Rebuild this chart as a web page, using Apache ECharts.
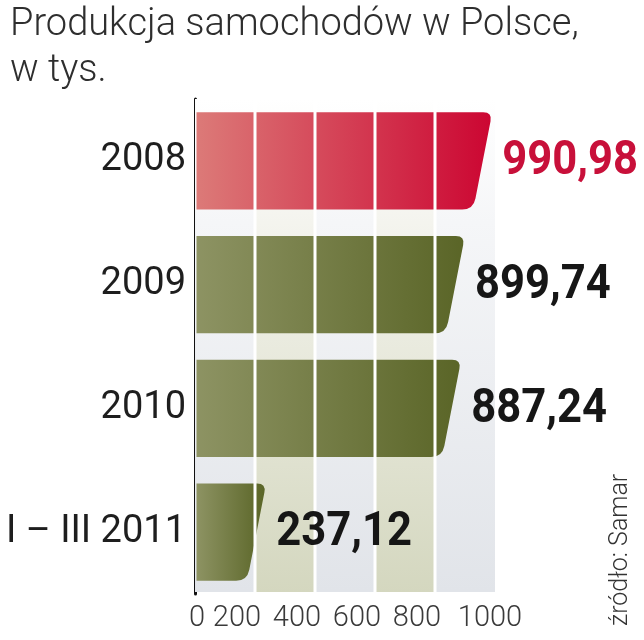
<!DOCTYPE html>
<html>
<head>
<meta charset="utf-8">
<script src="https://cdn.jsdelivr.net/npm/echarts@6/dist/echarts.min.js"></script>
<style>
  html, body { margin: 0; padding: 0; background: #fff; }
  #chart { width: 644px; height: 640px; }
</style>
</head>
<body>
<div id="chart"></div>
<script>
const categories = ['2008', '2009', '2010', 'I – III 2011']
const values = [990.98, 899.74, 887.24, 237.12]
const ticks = [0, 200, 400, 600, 800, 1000]

// label nudges: the printed scale numbers sit left of their gridlines
const tickShift = { 0: 2, 200: -18, 400: -18, 600: -18, 800: -18, 1000: -5 }

const chart = echarts.init(document.getElementById('chart'), null, { renderer: 'canvas' })

const fmt = v => v.toFixed(2).replace('.', ',')

const stripes = ticks.slice(0, -1).map((t, i) => [t, ticks[i + 1], i])
const separators = ticks.slice(1, -1)

function renderStripe(params, api) {
  const sys = params.coordSys
  const a = api.coord([api.value(0), 0])[0]
  const b = api.coord([api.value(1), 0])[0]
  const odd = api.value(2) % 2 === 1
  return {
    type: 'rect',
    shape: { x: a, y: sys.y, width: b - a, height: sys.height - 2 },
    style: {
      fill: new echarts.graphic.LinearGradient(0, 0, 0, 1, [
        { offset: 0, color: '#ffffff' },
        { offset: 0.25, color: odd ? '#f4f4ee' : '#f5f6f8' },
        { offset: 1, color: odd ? '#d4d7bf' : '#e1e4e9' }
      ])
    }
  }
}

function renderBar(params, api) {
  const v = api.value(0)
  const idx = api.value(1)
  const start = api.coord([0, idx])
  const end = api.coord([v, idx])
  const h = api.size([0, 1])[1] * 0.785
  const x0 = start[0] + 1.5
  const x1 = end[0]
  const yT = end[1] - h / 2
  const yB = end[1] + h / 2
  const slant = 19
  const r = 9
  const rb = 11
  const k = slant / h
  const d = [
    'M', x0, yT,
    'L', x1 - r, yT,
    'Q', x1, yT, x1 - k * r, yT + r,
    'L', x1 - slant + k * rb, yB - rb,
    'Q', x1 - slant, yB, x1 - slant - rb, yB,
    'L', x0, yB, 'Z'
  ].join(' ')
  const red = idx === 0
  return {
    type: 'path',
    shape: { pathData: d },
    style: {
      fill: new echarts.graphic.LinearGradient(0, 0, 1, 0, red ? [
        { offset: 0, color: '#dc7a78' },
        { offset: 1, color: '#cc0632' }
      ] : [
        { offset: 0, color: '#8d9363' },
        { offset: 1, color: '#5a6527' }
      ])
    }
  }
}

function renderSeparator(params, api) {
  const sys = params.coordSys
  const x = api.coord([api.value(0), 0])[0]
  return {
    type: 'line',
    shape: { x1: x, y1: sys.y, x2: x, y2: sys.y + sys.height },
    style: { stroke: '#ffffff', lineWidth: 3 }
  }
}

function renderLabel(params, api) {
  const v = api.value(0)
  const idx = api.value(1)
  const p = api.coord([v, idx])
  return {
    type: 'text',
    x: p[0] + 10,
    y: p[1] + 1,
    scaleX: 0.89,
    style: {
      text: fmt(v),
      fill: idx === 0 ? '#c8103a' : '#161616',
      font: 'bold 49px Roboto',
      align: 'left',
      verticalAlign: 'middle'
    }
  }
}

const rich = {}
ticks.forEach(t => {
  const s = tickShift[t] || 0
  rich['t' + t] = {
    fontSize: 29,
    fontFamily: 'Roboto',
    fontWeight: 300,
    color: '#3a3a3a',
    padding: s < 0 ? [0, -2 * s, 0, 0] : [0, 0, 0, 2 * s]
  }
})

chart.setOption({
  backgroundColor: '#ffffff',
  animation: false,
  title: {
    text: 'Produkcja samochodów w Polsce,\nw tys.',
    left: 5,
    top: -3,
    textStyle: {
      fontFamily: 'Roboto',
      fontWeight: 300,
      fontSize: 38,
      lineHeight: 46,
      color: '#2e2e2e'
    }
  },
  graphic: [{
    type: 'text',
    x: 621,
    y: 626,
    rotation: Math.PI / 2,
    style: {
      text: 'źródło: Samar',
      font: '300 25px Roboto',
      fill: '#333333',
      align: 'left',
      verticalAlign: 'middle'
    }
  }],
  grid: { left: 195, right: 149, top: 99, bottom: 46, outerBoundsMode: 'none', containLabel: false },
  xAxis: {
    type: 'value',
    min: 0,
    max: 1000,
    interval: 200,
    axisLine: { show: false },
    axisTick: { show: false },
    splitLine: { show: false },
    axisLabel: {
      margin: 10,
      formatter: v => `{t${v}|${v}}`,
      rich
    }
  },
  yAxis: {
    type: 'category',
    data: categories,
    inverse: true,
    axisLine: { show: true, lineStyle: { color: '#111111', width: 3 } },
    axisTick: { show: false },
    axisLabel: {
      margin: 9,
      fontSize: 38,
      fontFamily: 'Roboto',
      color: '#1e1e1e'
    }
  },
  series: [
    {
      type: 'custom',
      z: 1,
      silent: true,
      renderItem: renderStripe,
      data: stripes,
      encode: { x: [0, 1] }
    },
    {
      type: 'custom',
      z: 2,
      renderItem: renderBar,
      data: values.map((v, i) => [v, i]),
      encode: { x: 0, y: 1 }
    },
    {
      type: 'custom',
      z: 3,
      silent: true,
      renderItem: renderSeparator,
      data: separators.map(v => [v]),
      encode: { x: 0 }
    },
    {
      type: 'custom',
      z: 4,
      renderItem: renderLabel,
      data: values.map((v, i) => [v, i]),
      encode: { x: 0, y: 1 }
    }
  ]
})
</script>
</body>
</html>
